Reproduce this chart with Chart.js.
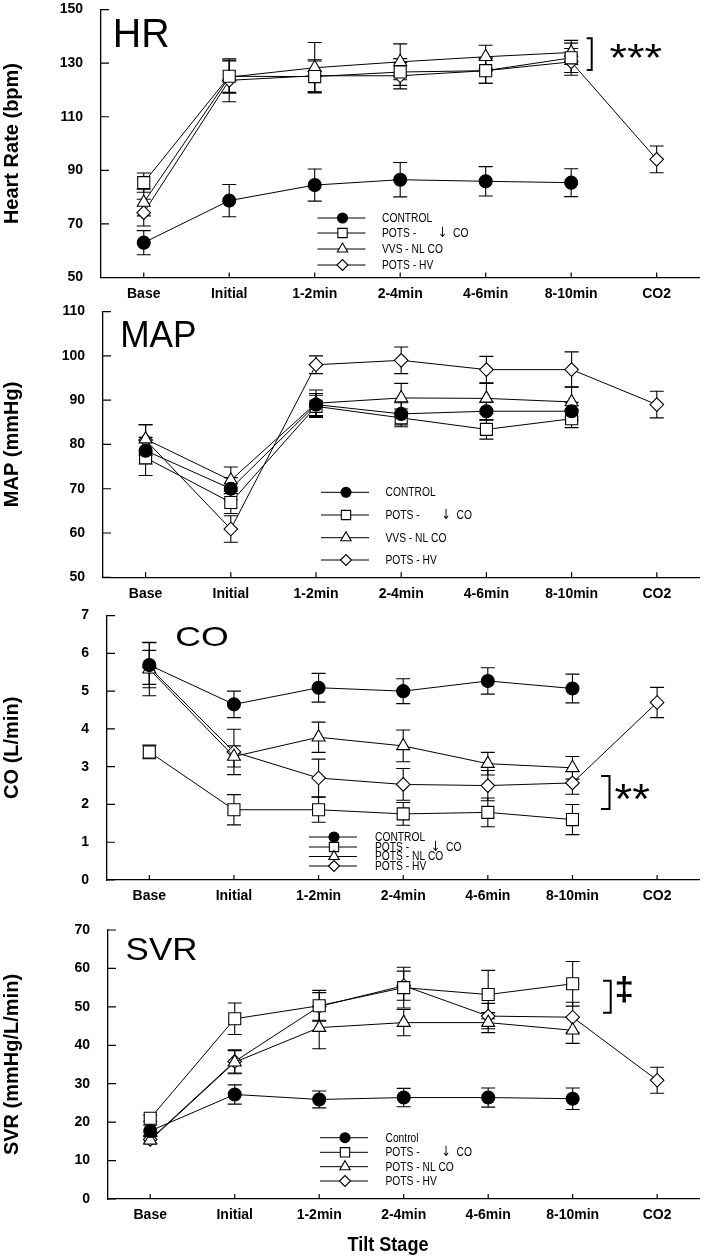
<!DOCTYPE html>
<html><head><meta charset="utf-8">
<script src="https://cdn.jsdelivr.net/npm/chart.js@4.4.1/dist/chart.umd.min.js"></script>
<style>
html,body{margin:0;padding:0;background:#fff;}
body{width:709px;height:1257px;position:relative;overflow:hidden;}
canvas{position:absolute;left:0;}
</style></head>
<body>
<canvas id="c1"></canvas><canvas id="c2"></canvas><canvas id="c3"></canvas><canvas id="c4"></canvas>
<script>
// ---------------- DATA ----------------
const categories = ['Base','Initial','1-2min','2-4min','4-6min','8-10min','CO2'];

// Heart rate (bpm)
const hrControl    = [63.0, 78.7, 84.5, 86.5, 85.9, 85.4, null];
const hrControlErr = [4.5, 6.0, 6.0, 6.4, 5.5, 5.2, null];
const hrLowCO      = [85.4, 125.1, 125.0, 126.7, 127.2, 132.0, null];
const hrLowCOErr   = [3.6, 6.0, 5.8, 5.0, 4.7, 5.5, null];
const hrNLCO       = [78.0, 124.8, 128.3, 130.5, 132.4, 134.0, null];
const hrNLCOErr    = [5.0, 6.0, 9.4, 6.7, 4.3, 4.5, null];
const hrHV         = [74.2, 123.6, 125.3, 125.3, 127.2, 130.5, 94.1];
const hrHVErr      = [5.0, 8.0, 6.0, 4.9, 4.7, 5.0, 5.0];

// Mean arterial pressure (mmHg)
const mapControl    = [78.6, 70.0, 89.0, 86.9, 87.5, 87.5, null];
const mapControlErr = [3.0, 2.5, 2.5, 2.5, 2.0, 2.0, null];
const mapLowCO      = [77.0, 66.9, 88.6, 86.0, 83.4, 85.8, null];
const mapLowCOErr   = [4.0, 2.5, 2.5, 2.0, 2.2, 2.0, null];
const mapNLCO       = [81.2, 71.9, 89.3, 90.5, 90.4, 89.6, null];
const mapNLCOErr    = [3.2, 3.0, 3.0, 3.3, 3.4, 3.4, null];
const mapHV         = [81.0, 60.9, 98.0, 99.0, 96.9, 96.9, 89.0];
const mapHVErr      = [3.5, 3.0, 2.0, 3.0, 3.0, 4.0, 3.0];

// Cardiac output (L/min)
const coControl    = [5.69, 4.65, 5.09, 5.00, 5.27, 5.07, null];
const coControlErr = [0.60, 0.35, 0.38, 0.33, 0.35, 0.38, null];
const coLowCO      = [3.39, 1.86, 1.86, 1.75, 1.79, 1.60, null];
const coLowCOErr   = [0.18, 0.40, 0.33, 0.30, 0.38, 0.40, null];
const coNLCO       = [5.58, 3.27, 3.78, 3.55, 3.08, 2.97, null];
const coNLCOErr    = [0.70, 0.28, 0.40, 0.42, 0.30, 0.30, null];
const coHV         = [5.63, 3.39, 2.70, 2.53, 2.50, 2.57, 4.70];
const coHVErr      = [0.45, 0.60, 0.50, 0.42, 0.40, 0.30, 0.40];

// Systemic vascular resistance (mmHg/L/min)
const svrControl    = [17.7, 27.2, 25.9, 26.4, 26.4, 26.1, null];
const svrControlErr = [1.5, 2.5, 2.2, 2.4, 2.5, 2.8, null];
const svrLowCO      = [21.0, 46.9, 50.3, 55.0, 53.2, 56.0, null];
const svrLowCOErr   = [0.8, 4.1, 4.0, 5.3, 6.3, 5.8, null];
const svrNLCO       = [15.3, 35.6, 44.6, 45.9, 45.9, 43.9, null];
const svrNLCOErr    = [1.0, 3.0, 5.5, 3.4, 2.6, 3.4, null];
const svrHV         = [15.5, 35.8, 50.1, 55.5, 47.6, 47.3, 30.9];
const svrHVErr      = [1.0, 3.0, 3.6, 3.8, 3.3, 3.9, 3.4];

// Axis ticks
const hrTicks  = {min: 50, max: 150, step: 20};
const mapTicks = {min: 50, max: 110, step: 10};
const coTicks  = {min: 0,  max: 7,   step: 1};
const svrTicks = {min: 0,  max: 70,  step: 10};

// Legend labels
const legendHR  = ['CONTROL', 'POTS -', 'VVS - NL CO', 'POTS - HV'];
const legendMAP = ['CONTROL', 'POTS -', 'VVS - NL CO', 'POTS - HV'];
const legendCO  = ['CONTROL', 'POTS -', 'POTS - NL CO', 'POTS - HV'];
const legendSVR = ['Control', 'POTS -', 'POTS - NL CO', 'POTS - HV'];
const lowCOArrow = '\u2193';
const lowCOText = 'CO';

// ---------------- STYLES ----------------
const SANS = '"Liberation Sans", Arial, sans-serif';
const markerStyles = [
  {pointStyle: 'circle',  radius: 6.5, fill: '#000', lr: 5},
  {pointStyle: 'rect',    radius: 8.5, fill: '#fff', lr: 6.6},
  {pointStyle: 'triangle',radius: 7.5, fill: '#fff', lr: 6},
  {pointStyle: 'rectRot', radius: 6.8, fill: '#fff', lr: 5.5}
];

const panels = [
  {id:'c1', top:0, h:302, left:101, right:702, ctop:7.3, cbottom:277.5, ticks:hrTicks,
   title:'Heart Rate (bpm)',
   data:[hrControl, hrLowCO, hrNLCO, hrHV], err:[hrControlErr, hrLowCOErr, hrNLCOErr, hrHVErr],
   legend:{labels:legendHR, mx:342.5, tx:382, rows:[218, 233, 249, 265]},
   letter:{text:'HR', box:[116, 18.3, 168, 46.7]},
   sig:{br:[586.7, 591.7, 38.3, 70], text:'***', bold:false, box:[610, 44, 661.7, 58]}},
  {id:'c2', top:302, h:304, left:103, right:703, ctop:308.3, cbottom:577.3, ticks:mapTicks,
   title:'MAP (mmHg)',
   data:[mapControl, mapLowCO, mapNLCO, mapHV], err:[mapControlErr, mapLowCOErr, mapNLCOErr, mapHVErr],
   legend:{labels:legendMAP, mx:346, tx:385.5, rows:[492.3, 515, 537.7, 560]},
   letter:{text:'MAP', box:[123, 321.7, 195, 346.7]}},
  {id:'c3', top:606, h:312, left:107, right:708, ctop:610.7, cbottom:880, ticks:coTicks,
   title:'CO (L/min)',
   data:[coControl, coLowCO, coNLCO, coHV], err:[coControlErr, coLowCOErr, coNLCOErr, coHVErr],
   legend:{labels:legendCO, mx:334, tx:375, rows:[837, 847, 856.5, 866]},
   letter:{text:'CO', box:[177, 626.7, 227, 646.7]},
   sig:{br:[601, 609.5, 776, 809], text:'**', bold:false, box:[615, 782.7, 649.5, 798.3]}},
  {id:'c4', top:918, h:339, left:108, right:706, ctop:930, cbottom:1199, ticks:svrTicks,
   title:'SVR (mmHg/L/min)',
   data:[svrControl, svrLowCO, svrNLCO, svrHV], err:[svrControlErr, svrLowCOErr, svrNLCOErr, svrHVErr],
   legend:{labels:legendSVR, mx:345, tx:385.5, rows:[1137.7, 1152.3, 1166.7, 1181]},
   letter:{text:'SVR', box:[127, 938, 196, 960]},
   sig:{br:[603, 610.7, 980.7, 1012.7], text:'\u2021', bold:true, box:[616.7, 976.7, 631.7, 1002.7]},
   xtitle:{text:'Tilt Stage', x:388, y:1251}}
];

function drawFit(ctx, text, font, x0, y0, x1, y1){
  ctx.save();
  ctx.font = font.replace('SIZE', '100px');
  ctx.textAlign = 'left'; ctx.textBaseline = 'alphabetic';
  const m = ctx.measureText(text);
  const w = m.actualBoundingBoxLeft + m.actualBoundingBoxRight;
  const h = m.actualBoundingBoxAscent + m.actualBoundingBoxDescent;
  ctx.translate(x0, y0);
  ctx.scale((x1 - x0) / w, (y1 - y0) / h);
  ctx.fillStyle = '#000';
  ctx.fillText(text, m.actualBoundingBoxLeft, m.actualBoundingBoxAscent);
  ctx.restore();
}

function makePlugin(p){
  return {
    id: 'extra_' + p.id,
    beforeDatasetsDraw(chart){
      const ctx = chart.ctx, xs = chart.scales.x, ys = chart.scales.y;
      ctx.save();
      ctx.strokeStyle = '#000'; ctx.lineWidth = 1.1;
      p.data.forEach((vals, d) => {
        vals.forEach((v, i) => {
          const e = p.err[d][i];
          if (v == null || e == null) return;
          const x = xs.getPixelForValue(i);
          const y1 = ys.getPixelForValue(v + e), y2 = ys.getPixelForValue(v - e);
          ctx.beginPath();
          ctx.moveTo(x, y1); ctx.lineTo(x, y2);
          ctx.moveTo(x - 7, y1); ctx.lineTo(x + 7, y1);
          ctx.moveTo(x - 7, y2); ctx.lineTo(x + 7, y2);
          ctx.stroke();
        });
      });
      ctx.restore();
    },
    afterDraw(chart){
      const ctx = chart.ctx, xs = chart.scales.x, ys = chart.scales.y, ca = chart.chartArea;
      const off = p.top;
      ctx.save();
      ctx.strokeStyle = '#000'; ctx.lineWidth = 1.2;
      // inward tick marks
      ctx.beginPath();
      ys.ticks.forEach((t, i) => {
        const y = ys.getPixelForTick(i);
        ctx.moveTo(ca.left, y); ctx.lineTo(ca.left + 8, y);
      });
      xs.ticks.forEach((t, i) => {
        const x = xs.getPixelForTick(i);
        ctx.moveTo(x, ca.bottom); ctx.lineTo(x, ca.bottom - 5);
      });
      ctx.stroke();
      // legend
      const L = p.legend;
      L.labels.forEach((lab, r) => {
        const y = L.rows[r] - off;
        ctx.lineWidth = 1;
        ctx.beginPath(); ctx.moveTo(L.mx - 25, y); ctx.lineTo(L.mx + 23, y); ctx.stroke();
        const ms = markerStyles[r];
        ctx.fillStyle = ms.fill; ctx.strokeStyle = '#000'; ctx.lineWidth = 1.1;
        Chart.helpers.drawPoint(ctx, {pointStyle: ms.pointStyle, radius: ms.lr, rotation: 0, borderWidth: 1.1}, L.mx, y);
        ctx.fillStyle = '#000';
        ctx.font = '12.5px ' + SANS; ctx.textBaseline = 'middle'; ctx.textAlign = 'left';
        ctx.save(); ctx.translate(L.tx, y + 0.5); ctx.scale(0.82, 1); ctx.fillText(lab, 0, 0); ctx.restore();
        if (r === 1) {
          ctx.save(); ctx.translate(L.tx + 56, y + 0.5);
          ctx.font = '14px "DejaVu Sans", sans-serif'; ctx.scale(0.8, 1); ctx.fillText(lowCOArrow, 0, 0); ctx.restore();
          ctx.save(); ctx.translate(L.tx + 71, y + 0.5); ctx.scale(0.82, 1); ctx.fillText(lowCOText, 0, 0); ctx.restore();
        }
      });
      // panel letter
      const b = p.letter.box;
      drawFit(ctx, p.letter.text, 'SIZE ' + SANS, b[0], b[1] - off, b[2], b[3] - off);
      // significance
      if (p.sig) {
        const s = p.sig;
        ctx.strokeStyle = '#000'; ctx.lineWidth = 2;
        ctx.beginPath();
        ctx.moveTo(s.br[0], s.br[2] - off); ctx.lineTo(s.br[1], s.br[2] - off);
        ctx.lineTo(s.br[1], s.br[3] - off); ctx.lineTo(s.br[0], s.br[3] - off);
        ctx.stroke();
        drawFit(ctx, s.text, (s.bold ? 'bold ' : '') + 'SIZE ' + SANS, s.box[0], s.box[1] - off, s.box[2], s.box[3] - off);
      }
      if (p.xtitle) {
        ctx.save();
        ctx.fillStyle = '#000';
        ctx.font = 'bold 21px ' + SANS; ctx.textAlign = 'center'; ctx.textBaseline = 'alphabetic';
        ctx.translate(p.xtitle.x, p.xtitle.y - off); ctx.scale(0.86, 1);
        ctx.fillText(p.xtitle.text, 0, 0);
        ctx.restore();
      }
      ctx.restore();
    }
  };
}

panels.forEach(p => {
  const cv = document.getElementById(p.id);
  cv.width = 709; cv.height = p.h;
  cv.style.width = '709px'; cv.style.height = p.h + 'px'; cv.style.top = p.top + 'px';
  const xh = p.top + p.h - p.cbottom;
  const datasets = p.data.map((vals, d) => ({
    data: vals,
    borderColor: '#000', borderWidth: 1, tension: 0, fill: false, spanGaps: false,
    pointStyle: markerStyles[d].pointStyle, pointRadius: markerStyles[d].radius,
    pointHoverRadius: markerStyles[d].radius,
    pointBackgroundColor: markerStyles[d].fill, pointBorderColor: '#000', pointBorderWidth: 1.1
  }));
  new Chart(cv, {
    type: 'line',
    data: {labels: categories, datasets},
    options: {
      responsive: false, animation: false, devicePixelRatio: 1,
      layout: {padding: {top: p.ctop - p.top, right: 709 - p.right, left: 0, bottom: 0}},
      plugins: {legend: {display: false}, tooltip: {enabled: false}},
      scales: {
        x: {type: 'category', offset: true,
            grid: {display: true, drawOnChartArea: false, drawTicks: false, color: '#000'},
            border: {display: true, color: '#000', width: 1.3},
            ticks: {padding: 8, color: '#000', maxRotation: 0, autoSkip: false,
                    font: {family: SANS, weight: 'bold', size: 14}},
            afterFit: s => { s.height = xh; s.paddingLeft = 0; s.paddingRight = 0; }},
        y: {min: p.ticks.min, max: p.ticks.max,
            grid: {display: true, drawOnChartArea: false, drawTicks: false, color: '#000'},
            border: {display: true, color: '#000', width: 1.3},
            ticks: {stepSize: p.ticks.step, padding: 18, color: '#000',
                    font: {family: SANS, weight: 'bold', size: 14}},
            title: {display: true, text: p.title, color: '#000', padding: 0,
                    font: {family: SANS, weight: 'bold', size: 20}},
            afterFit: s => { s.width = p.left; s.paddingTop = 0; s.paddingBottom = 0; }}
      }
    },
    plugins: [makePlugin(p)]
  });
});
</script>
</body></html>
